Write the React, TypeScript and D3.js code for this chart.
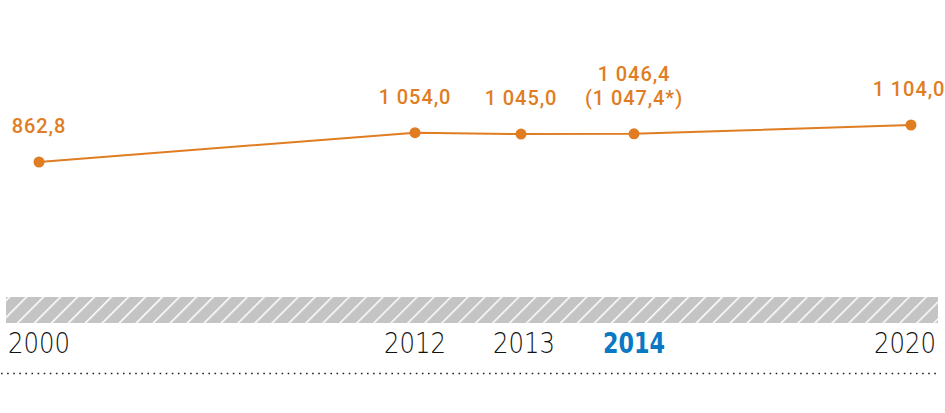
import React from "react";
import * as d3 from "d3";

const years = [2000, 2012, 2013, 2014, 2020];
const values = [862.8, 1054.0, 1045.0, 1046.4, 1104.0];
const labels = [["862,8"], ["1 054,0"], ["1 045,0"], ["1 046,4", "(1 047,4*)"], ["1 104,0"]];
const tickLabels = ["2000", "2012", "2013", "2014", "2020"];
const highlightYear = 2014;

const W = 945;
const H = 413;
const ORANGE = "#e07d22";
const BLUE = "#0a78c2";

export default function App() {
  const x = d3.scaleLinear().domain(years).range([39, 415, 521, 634, 911]);
  const y = d3.scaleLinear().domain([862.8, 1104]).range([162, 125]);
  const line = d3
    .line<number>()
    .x((_, i) => x(years[i]))
    .y((d) => y(d));

  return (
    <div style={{ position: "absolute", left: 0, top: 0, width: W, height: H }}>
      <svg width={W} height={H} style={{ display: "block" }}>
        <defs>
          <pattern id="hatch" patternUnits="userSpaceOnUse" width={12} height={12} patternTransform="rotate(45)">
            <rect width={12} height={12} fill="#c4c4c4" />
            <line x1={0} y1={0} x2={0} y2={12} stroke="#ffffff" strokeWidth={3} />
          </pattern>
        </defs>
        <rect x={6} y={297} width={932} height={26} fill="url(#hatch)" />
        <line x1={1} x2={937} y1={373.5} y2={373.5} stroke="#222" strokeWidth={1.6} strokeDasharray="1.6 4.5" />
        <path d={line(values) || ""} fill="none" stroke={ORANGE} strokeWidth={2} />
        {values.map((v, i) => (
          <circle key={i} cx={x(years[i])} cy={y(v)} r={5.5} fill={ORANGE} />
        ))}
        {values.map((v, i) => {
          const ls = labels[i];
          const last = i === values.length - 1;
          return (
            <g key={"l" + i}>
              {ls.map((t, j) => (
                <text
                  key={j}
                  x={x(years[i]) - (last ? 2 : 0)}
                  y={y(v) - 29 - (ls.length - 1 - j) * 24}
                  textAnchor="middle"
                  fill={ORANGE}
                  fontFamily="Roboto, sans-serif"
                  fontWeight={500}
                  fontSize={20}
                  letterSpacing={0.9}
                >
                  {t}
                </text>
              ))}
            </g>
          );
        })}
        {years.map((yr, i) => (
          <text
            key={"t" + i}
            x={x(yr) + (i === 2 ? 3 : i === 4 ? -6 : 0)}
            y={353}
            textAnchor="middle"
            fill={yr === highlightYear ? BLUE : "#111"}
            fontWeight={yr === highlightYear ? "bold" : 200}
            fontFamily="'DejaVu Sans', sans-serif"
            fontSize={28}
            textLength={62}
            lengthAdjust="spacingAndGlyphs"
          >
            {tickLabels[i]}
          </text>
        ))}
      </svg>
    </div>
  );
}
